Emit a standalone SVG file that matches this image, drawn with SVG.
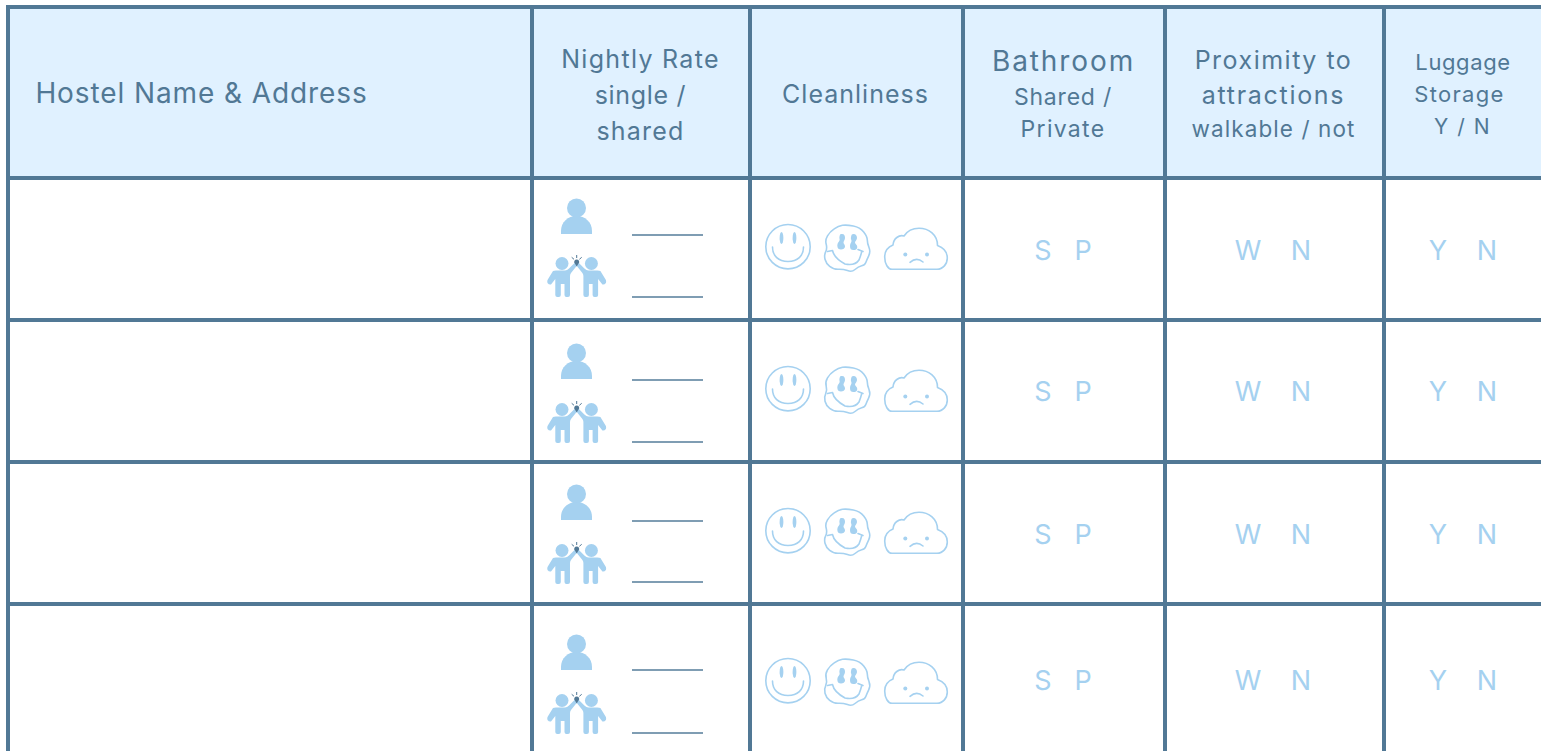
<svg xmlns="http://www.w3.org/2000/svg" width="1541" height="751" viewBox="0 0 1541 751">
<style>
text{font-family:"Inter","Open Sans","Liberation Sans",sans-serif;fill:#517895;text-anchor:middle}
.l{fill:#a5d1f0;font-size:27px}
.grid line{stroke:#517895;stroke-width:4}
.ul{stroke:#7f9db3;stroke-width:2}
.o{fill:none;stroke:#a5d1f0;stroke-width:1.600;stroke-linecap:round;stroke-linejoin:round}
.f{fill:#a5d1f0}
</style>
<defs>
<g id="person"><circle cx="576.500" cy="208" r="9.500" class="f"/><path class="f" d="M561 234v-3c0-9 7-15 15.500-15s15.500 6 15.500 15v3z"/></g>
<path id="fig" class="f" d="M575 262.500L577 265.500L571 273Q570 274.500 570 276V295a2 2 0 0 1-2 2H566.500a2 2 0 0 1-2-2V284H560.800V295a2 2 0 0 1-2 2H557.300a2 2 0 0 1-2-2V279L551 284.500Q549 285 547.500 283Q547 281.500 547.500 280L553 271Q554 270.500 556 270.500H565Q567 270.500 569 268.500z"/>
<g id="pair">
<circle cx="562" cy="263.500" r="6.500" class="f"/><circle cx="591.400" cy="263.500" r="6.500" class="f"/>
<use href="#fig"/><use href="#fig" transform="translate(1153.400 0) scale(-1 1)"/>
<path d="M576.700 259.500c2 0 2.700 1.500 2.400 3l-2.400 4-2.400-4c-.3-1.500.4-3 2.400-3z" fill="#517895"/>
<path d="M576.700 255v3M571.700 257.300l2.300 2M581.700 257.300l-2.300 2" stroke="#517895" stroke-width="1" fill="none"/>
</g>
<g id="happy"><circle class="o" cx="788" cy="246.700" r="22.200"/><path class="o" d="M772.500 247c0 9 6 14.500 15.500 14.500s15.500-5.500 15.500-14.500"/><ellipse cx="781.500" cy="238" rx="1.900" ry="6" class="f"/><ellipse cx="794.500" cy="238" rx="1.900" ry="6" class="f"/></g>
<g id="melt"><path class="o" d="M853.300 226Q860 227.300 863.700 232Q867.300 236.700 867.300 240Q867.300 243.300 869 247.500Q870.700 251.700 868.700 255.800Q866.700 260 865.800 262.500Q865 265 861.700 265.800Q858.300 266.700 855 269.500Q851.700 272.300 847.500 270.600Q843.300 269 838.300 269.200Q833.300 269.300 829.700 266.300Q826 263.300 825 259.200Q824 255 825.700 251.700Q827.300 248.300 826.200 244.200Q825 240 827.500 235.800Q830 231.700 834.200 228.900Q838.300 226 842.500 225.300Q846.700 224.700 853.300 226z"/><path class="o" d="M827.500 251.500l5-1Q834 258 845 264Q855 266 859 260Q861 255 861.700 251.700M858 249.500l5 2"/><path class="f" d="M842 234c2.500 0 3 2 3 4s-1.500 3-1.500 4.500 1.500 2 1.500 4-2 3-4 3-3.700-1-3.700-4 1.700-3.500 2.200-5-.5-2 0-4 .5-2.500 2.500-2.500zM853.500 234c2.500 0 3.500 2 3.500 4s-2 3-2 4.500 2.300 2 2.300 4.500-2 3-4 3-3.300-1-3.300-4 1.500-3.500 1.500-5-1-2-.5-4 .5-3 2.500-3z"/></g>
<g id="cloud"><path class="o" d="M892 269.300H937C943 269.300 947.300 264 947.300 258C947.300 252 943 247.500 937.500 245.500C937.500 235 929 228.300 919 228.300C912 228.300 907 231.500 904 236C899 234.500 893.500 238.500 893 245C888 247 884.700 251 884.700 257C884.700 264 888 269.300 892 269.300z"/><circle cx="905.300" cy="254.500" r="2" class="f"/><circle cx="927" cy="254.500" r="2" class="f"/><path class="o" d="M910 262.300Q916.500 256.500 923 262"/></g>
</defs>
<rect id="header-bg" x="8" y="7" width="1533" height="171" fill="#e0f1ff"/>
<g id="grid" class="grid">
<line x1="8" y1="5" x2="8" y2="751"/>
<line x1="532" y1="7" x2="532" y2="751"/><line x1="750" y1="7" x2="750" y2="751"/><line x1="963" y1="7" x2="963" y2="751"/><line x1="1165" y1="7" x2="1165" y2="751"/><line x1="1384" y1="7" x2="1384" y2="751"/>
<line x1="6" y1="7" x2="1541" y2="7"/><line x1="6" y1="178" x2="1541" y2="178"/><line x1="6" y1="320" x2="1541" y2="320"/><line x1="6" y1="462" x2="1541" y2="462"/><line x1="6" y1="604" x2="1541" y2="604"/>
</g>
<g id="headers">
<text x="201.500" y="103" font-size="28" letter-spacing="0.900">Hostel Name &amp; Address</text>
<text x="640.500" y="68" font-size="25" letter-spacing="1.300">Nightly Rate</text><text x="640.500" y="104" font-size="25" letter-spacing="0.700">single /</text><text x="640.500" y="140" font-size="25" letter-spacing="1.200">shared</text>
<text x="855.500" y="103" font-size="25" letter-spacing="1">Cleanliness</text>
<text x="1063.500" y="71" font-size="28" letter-spacing="1.900">Bathroom</text><text x="1063" y="105" font-size="23" letter-spacing="0.800">Shared /</text><text x="1063" y="137" font-size="23" letter-spacing="1.300">Private</text>
<text x="1273.500" y="69" font-size="25" letter-spacing="1.500">Proximity to</text><text x="1273.500" y="104" font-size="25" letter-spacing="1.700">attractions</text><text x="1273.500" y="137" font-size="22.500" letter-spacing="1.100">walkable / not</text>
<text x="1463" y="70" font-size="22" letter-spacing="0.600">Luggage</text><text x="1459.500" y="102" font-size="22" letter-spacing="1.300">Storage</text><text x="1462.500" y="134" font-size="21" letter-spacing="1.500">Y / N</text>
</g>
<g id="row1">
<use href="#person"/><use href="#pair"/><line class="ul" x1="632" y1="235" x2="703" y2="235"/><line class="ul" x1="632" y1="297" x2="703" y2="297"/>
<use href="#happy"/><use href="#melt"/><use href="#cloud"/>
<text class="l" x="1043" y="260">S</text><text class="l" x="1083" y="260">P</text><text class="l" x="1248" y="260">W</text><text class="l" x="1301" y="260">N</text><text class="l" x="1438" y="260">Y</text><text class="l" x="1487" y="260">N</text>
</g>
<g id="row2">
<use href="#person" y="145"/><use href="#pair" y="146"/><line class="ul" x1="632" y1="380" x2="703" y2="380"/><line class="ul" x1="632" y1="442" x2="703" y2="442"/>
<use href="#happy" y="142"/><use href="#melt" y="142"/><use href="#cloud" y="142"/>
<text class="l" x="1043" y="401">S</text><text class="l" x="1083" y="401">P</text><text class="l" x="1248" y="401">W</text><text class="l" x="1301" y="401">N</text><text class="l" x="1438" y="401">Y</text><text class="l" x="1487" y="401">N</text>
</g>
<g id="row3">
<use href="#person" y="286"/><use href="#pair" y="287"/><line class="ul" x1="632" y1="521" x2="703" y2="521"/><line class="ul" x1="632" y1="582" x2="703" y2="582"/>
<use href="#happy" y="284"/><use href="#melt" y="284"/><use href="#cloud" y="284"/>
<text class="l" x="1043" y="544">S</text><text class="l" x="1083" y="544">P</text><text class="l" x="1248" y="544">W</text><text class="l" x="1301" y="544">N</text><text class="l" x="1438" y="544">Y</text><text class="l" x="1487" y="544">N</text>
</g>
<g id="row4">
<use href="#person" y="436"/><use href="#pair" y="437"/><line class="ul" x1="632" y1="670" x2="703" y2="670"/><line class="ul" x1="632" y1="733" x2="703" y2="733"/>
<use href="#happy" y="434"/><use href="#melt" y="434"/><use href="#cloud" y="434"/>
<text class="l" x="1043" y="690">S</text><text class="l" x="1083" y="690">P</text><text class="l" x="1248" y="690">W</text><text class="l" x="1301" y="690">N</text><text class="l" x="1438" y="690">Y</text><text class="l" x="1487" y="690">N</text>
</g>
</svg>
